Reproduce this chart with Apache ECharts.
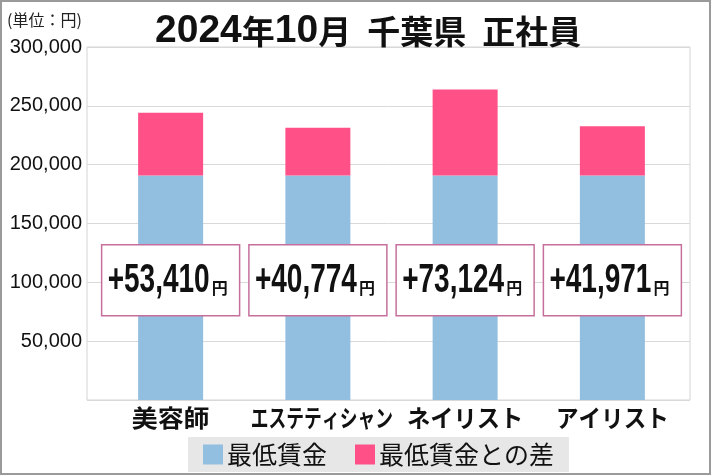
<!DOCTYPE html>
<html>
<head>
<meta charset="utf-8">
<script src="https://cdn.jsdelivr.net/npm/echarts@6/dist/echarts.min.js"></script>
<style>
html,body{margin:0;padding:0;background:#fff;}
#chart{width:712px;height:476px;}
</style>
</head>
<body>
<div id="chart"></div>
<script>
// ---- data ----
const categories = ['美容師', 'エステティシャン', 'ネイリスト', 'アイリスト'];
const minWage = [190700, 190700, 190700, 190700];
const diffFromMin = [53410, 40774, 73124, 41971];
const seriesNames = ['最低賃金', '最低賃金との差'];
const titleText = '2024年10月 千葉県 正社員';
const unitText = '(単位：円)';
const unitSuffix = '円';
const yMin = 0, yMax = 300000, yInterval = 50000;

// ---- styles ----
const LABEL_ANCHOR = 100000;            // value level where the difference boxes sit
const catScaleX = [1.08, 0.74, 0.97, 0.94];
const CJK = '"Noto Sans CJK JP", sans-serif';
const LAT = '"Liberation Sans", Arial, sans-serif';

// title split into rich tokens (digits / spaces / CJK)
const titleRich = titleText.match(/\d+|\s+|[^\d\s]+/g).map(t =>
  /^\d+$/.test(t) ? '{d|' + t + '}' : (/^\s+$/.test(t) ? '{s| }' : '{c|' + t + '}')).join('');

const chart = echarts.init(document.getElementById('chart'), null, {renderer: 'canvas'});

const option = {
  backgroundColor: '#fff',
  animation: false,
  title: {
    text: titleRich,
    left: 150, top: 6,
    textStyle: {
      rich: {
        d: {fontSize: 39, fontWeight: 'bold', fontFamily: LAT, color: '#111', lineHeight: 40, verticalAlign: 'middle'},
        c: {fontSize: 33, fontWeight: 'bold', fontFamily: CJK, color: '#111', lineHeight: 40, verticalAlign: 'middle'},
        s: {fontSize: 33, width: 16, lineHeight: 40}
      }
    }
  },
  graphic: [
    {type: 'rect', shape: {x: 1, y: 1, width: 709, height: 473}, style: {fill: 'none', stroke: '#9a9a9a', lineWidth: 2}, z: 100},
    {type: 'text', left: 7, top: 12, style: {text: unitText, fontSize: 16, fontFamily: CJK, fill: '#222'}}
  ],
  legend: {
    data: seriesNames,
    left: 188, top: 437,
    backgroundColor: '#e7e7e7',
    padding: [5, 15, 5, 15],
    itemWidth: 20, itemHeight: 20, itemGap: 28,
    icon: 'rect',
    textStyle: {fontSize: 25, color: '#111', fontFamily: CJK, padding: [0, 0, 0, -1]}
  },
  grid: [
    {left: 87, right: 22, top: 47, bottom: 76, show: true, borderColor: '#d4d4d4', borderWidth: 1, backgroundColor: 'transparent'},
    {left: 97, right: 26, top: 47, bottom: 76}
  ],
  xAxis: [
    {gridIndex: 0, type: 'value', show: false, min: 0, max: 1},
    {
      gridIndex: 1, type: 'category', data: categories,
      axisLine: {show: false}, axisTick: {show: false}, axisLabel: {show: false}
    }
  ],
  yAxis: [
    {
      gridIndex: 0, type: 'value', min: yMin, max: yMax, interval: yInterval,
      axisLine: {show: false}, axisTick: {show: false},
      splitLine: {lineStyle: {color: '#d9d9d9', width: 1}},
      axisLabel: {
        fontSize: 20, color: '#111', margin: 5, fontFamily: LAT,
        formatter: v => v === 0 ? '' : v.toLocaleString('en-US')
      }
    },
    {gridIndex: 1, type: 'value', min: yMin, max: yMax, interval: yInterval, show: false, splitLine: {show: false}}
  ],
  series: [
    {
      name: seriesNames[0], type: 'bar', stack: 'total', xAxisIndex: 1, yAxisIndex: 1,
      data: minWage, barWidth: 65,
      itemStyle: {color: '#92bfe0'}
    },
    {
      name: seriesNames[1], type: 'bar', stack: 'total', xAxisIndex: 1, yAxisIndex: 1,
      data: diffFromMin, barWidth: 65,
      itemStyle: {color: '#ff5087'}
    },
    {
      type: 'custom', xAxisIndex: 1, yAxisIndex: 1, z: 5,
      data: categories.map((c, i) => [i, diffFromMin[i]]),
      renderItem: (params, api) => {
        const i = api.value(0);
        const diff = api.value(1);
        const p = api.coord([i, LABEL_ANCHOR]);
        const base = api.coord([i, 0]);
        const cx = p[0], cy = p[1] - 1.5;
        return {
          type: 'group',
          children: [
            {type: 'rect', shape: {x: cx - 69, y: cy - 36, width: 138, height: 71},
             style: {fill: '#fff', stroke: '#c66f9c', lineWidth: 1.5}},
            {type: 'text', x: cx + 39, y: cy, scaleX: 0.7,
             style: {text: '+' + diff.toLocaleString('en-US'), fontSize: 40, fontWeight: 'bold',
                     fontFamily: LAT, fill: '#111', align: 'right', verticalAlign: 'middle'}},
            {type: 'text', x: cx + 41, y: cy + 15,
             style: {text: unitSuffix, fontSize: 16, fontWeight: 'bold', fontFamily: CJK,
                     fill: '#111', align: 'left', verticalAlign: 'bottom'}},
            {type: 'text', x: cx + (i === 1 ? 4 : 0), y: base[1] + 6, scaleX: catScaleX[i],
             style: {text: categories[i], fontSize: 24, fontWeight: 'bold', fontFamily: CJK,
                     fill: '#111', align: 'center', verticalAlign: 'top'}}
          ]
        };
      }
    }
  ]
};
chart.setOption(option);
</script>
</body>
</html>
